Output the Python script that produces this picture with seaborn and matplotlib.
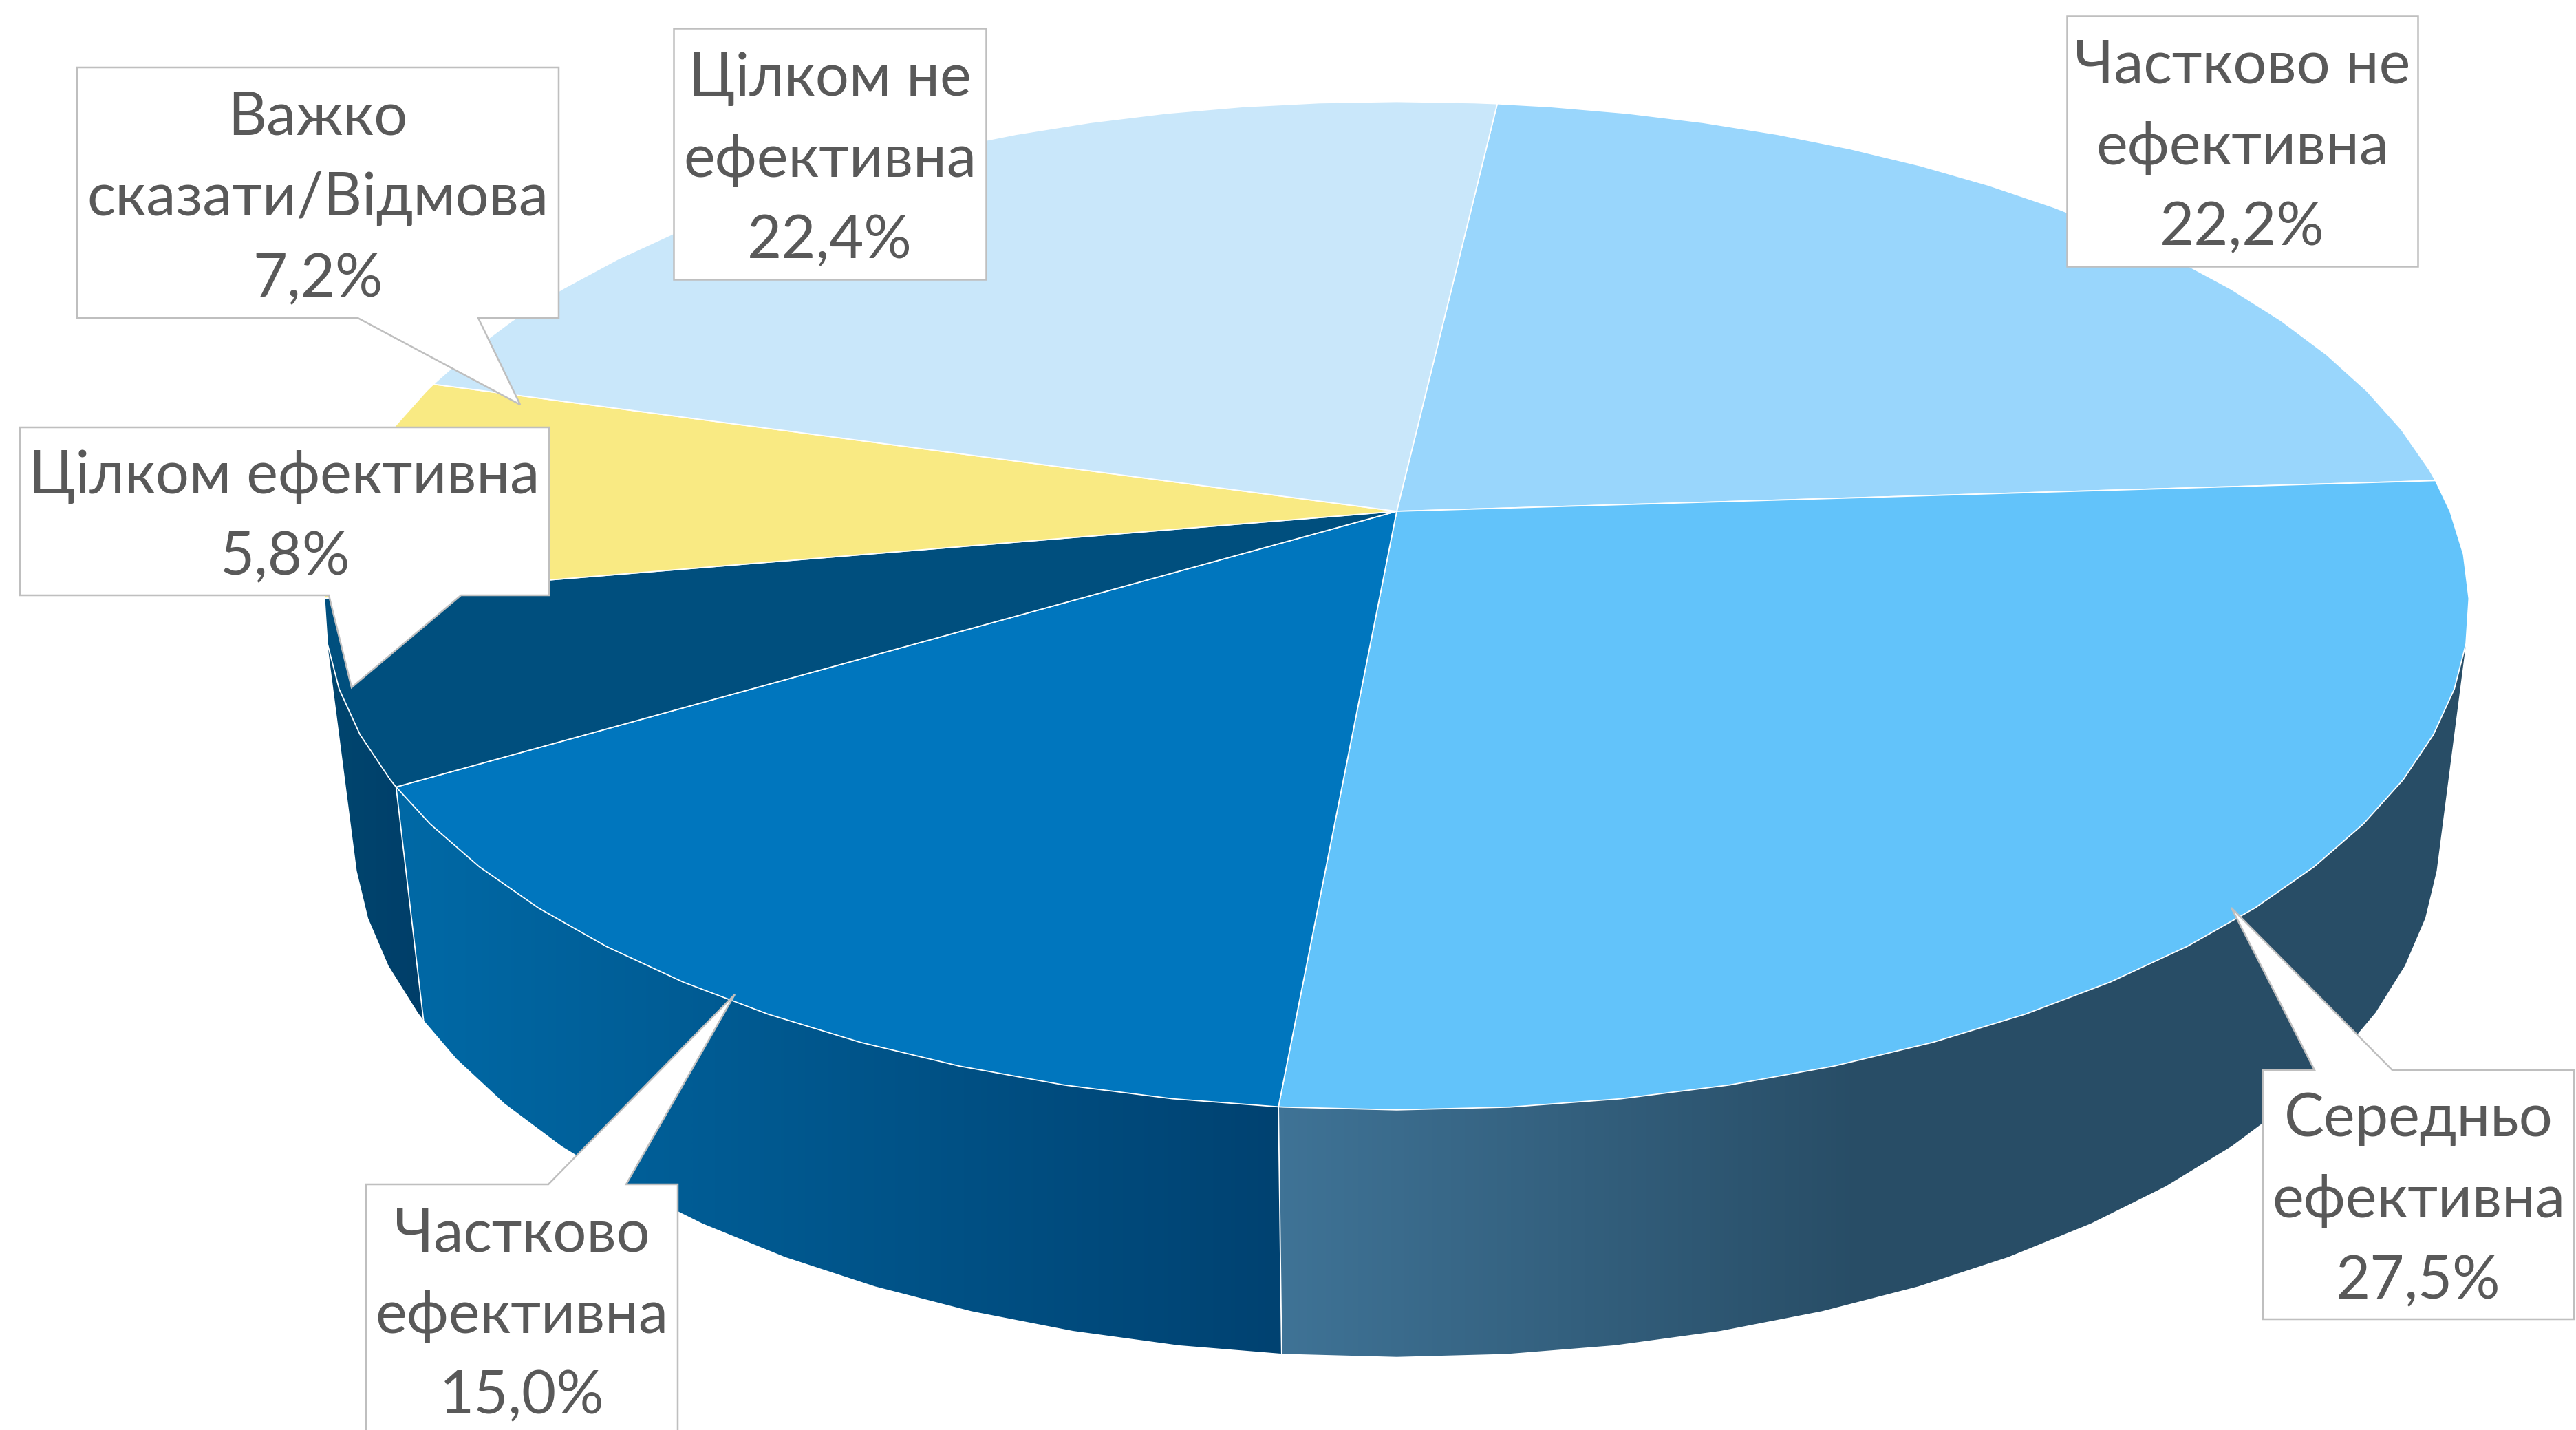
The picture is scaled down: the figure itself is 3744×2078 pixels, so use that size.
import numpy as np
import matplotlib
matplotlib.use("Agg")
import matplotlib.pyplot as plt
from matplotlib.colors import LinearSegmentedColormap
from matplotlib.patches import Polygon
import seaborn as sns

# Chart data
categories = ["Частково не\nефективна", "Середньо\nефективна", "Частково\nефективна",
              "Цілком ефективна", "Важко\nсказати/Відмова", "Цілком не\nефективна"]
values = [22.2, 27.5, 15.0, 5.8, 7.2, 22.4]

# Colours
top_colors = ["#99D6FC", "#62C3FA", "#0076BE", "#004F7E", "#F9EA83", "#C9E7FA"]
wall_grads = [None, ("#3F7396", "#284D66", 0.49), ("#0069A6", "#004271", 1.0),
              ("#00466F", "#003E69", 1.0), None, None]

sns.set_theme(style="white")
plt.rcParams["font.family"] = ["Lato", "Noto Sans", "DejaVu Sans"]
palette = sns.color_palette(top_colors)

W, H = 3744, 2078
fig = plt.figure(figsize=(W / 100, H / 100), dpi=100)
ax = fig.add_axes([0, 0, 1, 1])
ax.set_axis_off()

# Perspective of the disc (pixels of the final image)
CX = 2030
K = 0.1872
TOP = dict(cy=743, a=1531, b=707)
BASE = dict(cy=1065, a=1489, b=737)
START = 6.5
VISIBLE = (105, 255)


def project(theta, cy, a, b):
    t = np.radians(theta)
    w = 1 + K * np.cos(t)
    return CX + a * np.sin(t) / w, cy - b * np.cos(t) / w


def arc(t0, t1):
    inner = np.arange(np.floor(t0 / 5) * 5 + 5, t1 - 0.01, 5)
    return np.concatenate([[t0], inner[inner > t0], [t1]])


bounds = START + np.cumsum([0] + values) * 360 / sum(values)

# side walls first, the top faces cover the rest
for i, grad in enumerate(wall_grads):
    if grad is None:
        continue
    t0, t1 = max(bounds[i], VISIBLE[0]), min(bounds[i + 1], VISIBLE[1])
    th = arc(t0, t1)
    ux, uy = project(th, **TOP)
    lx, ly = project(th, **BASE)
    xs = np.concatenate([ux, lx[::-1]])
    ys = np.concatenate([uy, ly[::-1]])
    clip = Polygon(np.column_stack([xs, ys]), closed=True, fc="none", ec="none",
                   transform=ax.transData)
    ax.add_patch(clip)
    c0, c1, stop = grad
    # colour runs along the screen x
    stops = [(0, c0), (stop, c1), (1, c1)] if stop < 1 else [(0, c0), (1, c1)]
    cmap = LinearSegmentedColormap.from_list("wall", stops)
    g = np.linspace(0, 1, 512)[None, :]
    im = ax.imshow(g, cmap=cmap, aspect="auto", zorder=1, interpolation="bilinear",
                   extent=(xs.min(), xs.max(), ys.max(), ys.min()))
    im.set_clip_path(clip)

# white seams between the visible walls
for i in [1, 2]:
    ux, uy = project(bounds[i + 1], **TOP)
    lx, ly = project(bounds[i + 1], **BASE)
    ax.plot([ux, lx], [uy, ly], color="white", lw=1.3, zorder=2)

for i, color in enumerate(palette):
    th = arc(bounds[i], bounds[i + 1])
    x, y = project(th, **TOP)
    pts = np.column_stack([np.r_[CX, x], np.r_[TOP["cy"], y]])
    ax.add_patch(Polygon(pts, closed=True, fc=color, ec="white", lw=1.3, zorder=3,
                         joinstyle="round"))

# Data labels: box (x0, y0, x1, y1), optional pointer (base a, base b, tip x, tip y)
boxes = [(3004, 23, 3514, 387), (3289, 1555, 3741, 1917), (532, 1721, 985, 2085),
         (29, 621, 798, 865), (112, 98, 812, 462), (979, 41, 1433, 406)]
pointers = [None, (3364, 3477, 3243, 1319), (797, 910, 1068, 1445),
            (478, 670, 511, 999), (520, 695, 756, 588), None]
LINE = 118

for name, val, box, ptr in zip(categories, values, boxes, pointers):
    x0, y0, x1, y1 = box
    if ptr is None:
        pts = [(x0, y0), (x1, y0), (x1, y1), (x0, y1)]
    elif ptr[3] < y0:
        pts = [(x0, y0), (ptr[0], y0), (ptr[2], ptr[3]), (ptr[1], y0), (x1, y0), (x1, y1), (x0, y1)]
    else:
        pts = [(x0, y0), (x1, y0), (x1, y1), (ptr[1], y1), (ptr[2], ptr[3]), (ptr[0], y1), (x0, y1)]
    ax.add_patch(Polygon(pts, closed=True, fc="white", ec="#BFBFBF", lw=1.8, zorder=4))
    lines = name.split("\n") + [f"{val:.1f}%".replace(".", ",")]
    mid = (y0 + y1) / 2
    for j, line in enumerate(lines):
        base = mid + 33.5 + (j - (len(lines) - 1) / 2) * LINE
        ax.text((x0 + x1) / 2, base, line, ha="center", va="baseline", fontsize=62.4,
                color="#595959", zorder=5)

ax.set_xlim(0, W)
ax.set_ylim(H, 0)
fig.savefig("out.png", dpi=100, facecolor="white")
plt.close(fig)
